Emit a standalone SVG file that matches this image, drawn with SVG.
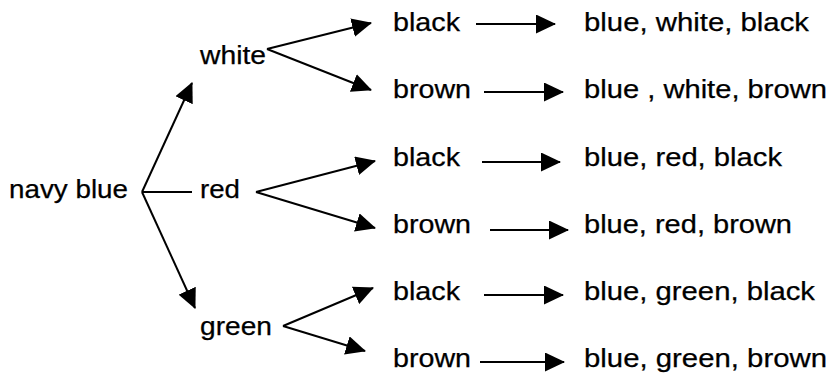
<svg xmlns="http://www.w3.org/2000/svg" width="830" height="376" viewBox="0 0 830 376">
<style>
text{font-family:"Liberation Sans",Arial,sans-serif;font-size:25.5px;fill:#000;stroke:#000;stroke-width:0.25}
.c line{stroke:#000;stroke-width:2}
.a{marker-end:url(#ah)}
</style>
<defs>
<marker id="ah" viewBox="0 0 20 19" refX="19" refY="9.5" markerWidth="20" markerHeight="19" markerUnits="userSpaceOnUse" orient="auto">
<path d="M0,0 L20,9.5 L0,19 z" fill="#000"/>
</marker>
</defs>
<rect width="830" height="376" fill="#fff"/>
<g id="navy"><text x="9" y="198" textLength="119" lengthAdjust="spacingAndGlyphs">navy blue</text></g>
<g id="white"><text x="200" y="64" textLength="66" lengthAdjust="spacingAndGlyphs">white</text></g>
<g id="red"><text x="200" y="198" textLength="40" lengthAdjust="spacingAndGlyphs">red</text></g>
<g id="green"><text x="200" y="335" textLength="72" lengthAdjust="spacingAndGlyphs">green</text></g>
<g id="w-black"><text x="393" y="31" textLength="67" lengthAdjust="spacingAndGlyphs">black</text></g>
<g id="w-brown"><text x="393" y="98" textLength="78" lengthAdjust="spacingAndGlyphs">brown</text></g>
<g id="r-black"><text x="393" y="166" textLength="67" lengthAdjust="spacingAndGlyphs">black</text></g>
<g id="r-brown"><text x="393" y="233" textLength="78" lengthAdjust="spacingAndGlyphs">brown</text></g>
<g id="g-black"><text x="393" y="300" textLength="67" lengthAdjust="spacingAndGlyphs">black</text></g>
<g id="g-brown"><text x="393" y="367" textLength="78" lengthAdjust="spacingAndGlyphs">brown</text></g>
<g id="res1"><text x="584" y="31" textLength="225" lengthAdjust="spacingAndGlyphs">blue, white, black</text></g>
<g id="res2"><text x="584" y="98" textLength="243" lengthAdjust="spacingAndGlyphs">blue , white, brown</text></g>
<g id="res3"><text x="584" y="166" textLength="198" lengthAdjust="spacingAndGlyphs">blue, red, black</text></g>
<g id="res4"><text x="584" y="233" textLength="208" lengthAdjust="spacingAndGlyphs">blue, red, brown</text></g>
<g id="res5"><text x="584" y="300" textLength="231" lengthAdjust="spacingAndGlyphs">blue, green, black</text></g>
<g id="res6"><text x="584" y="367" textLength="243" lengthAdjust="spacingAndGlyphs">blue, green, brown</text></g>
<g id="connectors" class="c">
<line class="a" x1="142" y1="192" x2="192" y2="83"/>
<line x1="142" y1="192" x2="192" y2="192"/>
<line class="a" x1="142" y1="192" x2="195" y2="308"/>
<line class="a" x1="267" y1="49" x2="371" y2="23"/>
<line class="a" x1="267" y1="49" x2="371" y2="90"/>
<line class="a" x1="256" y1="192" x2="375" y2="161"/>
<line class="a" x1="256" y1="192" x2="375" y2="228"/>
<line class="a" x1="283" y1="326" x2="373" y2="288"/>
<line class="a" x1="283" y1="326" x2="365" y2="351"/>
<line class="a" x1="476" y1="24" x2="555" y2="24"/>
<line class="a" x1="484" y1="92" x2="563" y2="92"/>
<line class="a" x1="482" y1="162" x2="560" y2="162"/>
<line class="a" x1="490" y1="230" x2="568" y2="230"/>
<line class="a" x1="484" y1="295" x2="563" y2="295"/>
<line class="a" x1="480" y1="362" x2="564" y2="362"/>
</g>
</svg>
